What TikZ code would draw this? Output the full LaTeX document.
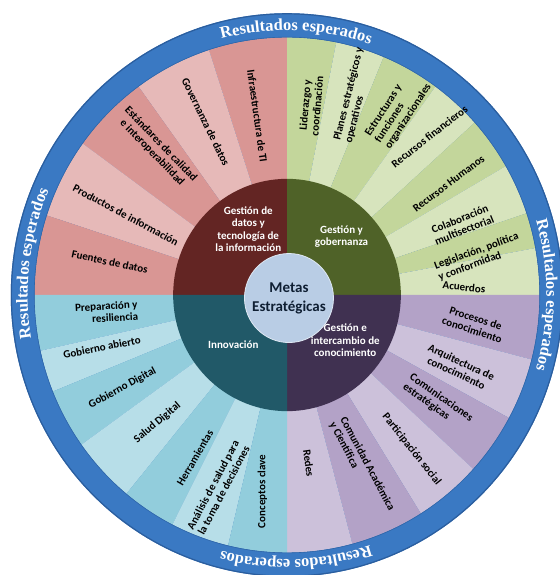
\documentclass[tikz,border=0pt]{standalone}
\usepackage{fontspec}
\setmainfont{Carlito}
\newfontfamily\ringfont{Liberation Serif}
\usetikzlibrary{decorations.text}
\definecolor{ringblue}{HTML}{3A79C3}
\definecolor{ringedge}{HTML}{2B5E9E}
\definecolor{redD}{HTML}{632523}
\definecolor{redM}{HTML}{D99694}
\definecolor{redL}{HTML}{E6B9B8}
\definecolor{grnD}{HTML}{4F6228}
\definecolor{grnM}{HTML}{C3D69B}
\definecolor{grnL}{HTML}{D7E4BD}
\definecolor{purD}{HTML}{403151}
\definecolor{purM}{HTML}{B3A2C7}
\definecolor{purL}{HTML}{CCC1DA}
\definecolor{tealD}{HTML}{215968}
\definecolor{tealM}{HTML}{92CDDC}
\definecolor{tealL}{HTML}{B7DEE8}
\definecolor{ctr}{HTML}{B9CDE5}
\definecolor{ctrtext}{HTML}{0F1F33}
\newcommand\ringfmt{\ringfont\bfseries\fontsize{16.5}{17}\selectfont\color{white}}
\newcommand\drawsector[4]{\fill[#4] (0,0) -- (#1:#3) arc[start angle=#1, end angle=#2, radius=#3] -- cycle;}
\begin{document}
\begin{tikzpicture}[x=1pt,y=1pt,
  lbl/.style={font=\fontsize{11}{12}\selectfont\bfseries, text=black, align=center, inner sep=0pt},
  qlbl/.style={font=\fontsize{11}{12.5}\selectfont\bfseries, text=white, align=center, inner sep=0pt},
  ringtext/.style={decorate, decoration={text along path, text align=center, text={|\ringfmt|Resultados esperados}}}
]
\useasboundingbox (0,0) rectangle (559,575);
\begin{scope}[shift={(287,280)}, xscale=0.99, yscale=1.01]
\coordinate (c) at (0,0);
% outer ring
\fill[ringblue] (c) circle[radius=279];
\draw[ringedge, line width=1.2pt] (c) circle[radius=278.4];
% red wedges
\foreach \a/\b/\col in {90/108/redM, 108/126/redL, 126/144/redM, 144/162/redL, 162/180/redM}
  {\drawsector{\a}{\b}{255}{\col}}
% green wedges
\foreach \a/\b/\col in {78.75/90/grnM, 67.5/78.75/grnL, 54/67.5/grnM, 42/54/grnL, 30/42/grnM, 18.5/30/grnL, 10.5/18.5/grnM, 0/10.5/grnL}
  {\drawsector{\a}{\b}{255}{\col}}
% purple wedges
\foreach \a/\b/\col in {-14.5/0/purM, -28.5/-14.5/purL, -42.5/-28.5/purM, -58/-42.5/purL, -75/-58/purM, -90/-75/purL}
  {\drawsector{\a}{\b}{255}{\col}}
% teal wedges
\foreach \a/\b/\col in {180/192.5/tealM, 192.5/202/tealL, 202/215.5/tealM, 215.5/230.5/tealL, 230.5/243/tealM, 243/256.5/tealL, 256.5/270/tealM}
  {\drawsector{\a}{\b}{255}{\col}}
\draw[ringedge!70!ringblue, line width=0.6pt] (c) circle[radius=255.3];
% dark quadrants
\foreach \a/\b/\col in {90/180/redD, 0/90/grnD, -90/0/purD, 180/270/tealD}
  {\drawsector{\a}{\b}{115}{\col}}
% ring texts
\path[ringtext] (128:262) arc[start angle=128, end angle=48, radius=262];
\path[ringtext] (40:262) arc[start angle=40, end angle=-40, radius=262];
\path[ringtext] (312:262) arc[start angle=312, end angle=232, radius=262];
\path[ringtext] (213:262) arc[start angle=213, end angle=133, radius=262];
% centre
\node[circle, fill=ctr, draw=white!55!ctr, line width=0.8pt, minimum size=89pt, inner sep=0pt,
  font=\fontsize{15}{19}\selectfont\bfseries, align=center, text=ctrtext] (meta) at (2,-3) {Metas\\Estratégicas};
% quadrant labels
\node[qlbl] (q1) at (121:76) {Gestión de\\datos y\\tecnología de\\la información};
\node[qlbl] (q2) at (46.5:80) {Gestión y\\gobernanza};
\node[qlbl] (q3) at (-37.3:74) {Gestión e\\intercambio de\\conocimiento};
\node[qlbl] (q4) at (222:73) {Innovación};
% red labels
\node[lbl, rotate=-82] (l1) at (99.6:180) {Infraestructura de TI};
\node[lbl, rotate=-64] (l2) at (115.6:190) {Governanza de datos};
\node[lbl, rotate=-46] (l3) at (132.3:196) {Estándares de calidad\\e interoperabilidad};
\node[lbl, rotate=-28] (l4) at (154.1:181) {Productos de información};
\node[lbl, rotate=-12] (l5) at (169.6:182) {Fuentes de datos};
% green labels
\node[lbl, rotate=76, align=left, anchor=west] (g2) at (69.6:162) {Planes estratégicos y\\operativos};
\node[lbl, rotate=85] (g1) at (82.6:189) {Liderazgo y\\coordinación};
\node[lbl, rotate=57, align=left, anchor=west] (g3) at (58.8:177) {Estructuras y\\funciones\\organizacionales};
\node[lbl, rotate=38] (g4) at (47.5:213) {Recursos financieros};
\node[lbl, rotate=37] (g5) at (34:197) {Recursos Humanos};
\node[lbl, rotate=22] (g6) at (21.5:190) {Colaboración\\multisectorial};
\node[lbl, rotate=20, align=left] (g7) at (11:197) {Legislación, política\\y conformidad};
\node[lbl, rotate=-6] (g8) at (2.5:179) {Acuerdos};
% purple labels
\node[lbl, rotate=-18] (p1) at (-8.7:191) {Procesos de\\conocimiento};
\node[lbl, rotate=-25] (p2) at (-22.5:188) {Arquitectura de\\conocimiento};
\node[lbl, rotate=-35, align=left] (p3) at (-35:186) {Comunicaciones\\estratégicas};
\node[lbl, rotate=-51.5] (p4) at (-50.5:198) {Participación social};
\node[lbl, rotate=-62, align=left] (p5) at (-66:186) {Comunidad Académica\\y Científica};
\node[lbl, rotate=-82] (p6) at (-82.5:168) {Redes};
% teal labels
\node[lbl, rotate=3, align=right] (t1) at (185.3:183) {Preparación y\\resiliencia};
\node[lbl, rotate=11] (t2) at (195.5:194) {Gobierno abierto};
\node[lbl, rotate=28] (t3) at (209:190) {Gobierno Digital};
\node[lbl, rotate=40] (t4) at (224:182) {Salud Digital};
\node[lbl, rotate=60] (t5) at (240:186) {Herramientas};
\node[lbl, rotate=62, align=left] (t6) at (250:203) {Análisis de salud para\\la toma de decisiones};
\node[lbl, rotate=90] (t7) at (262.7:196) {Conceptos clave};
\end{scope}
\end{tikzpicture}
\end{document}
